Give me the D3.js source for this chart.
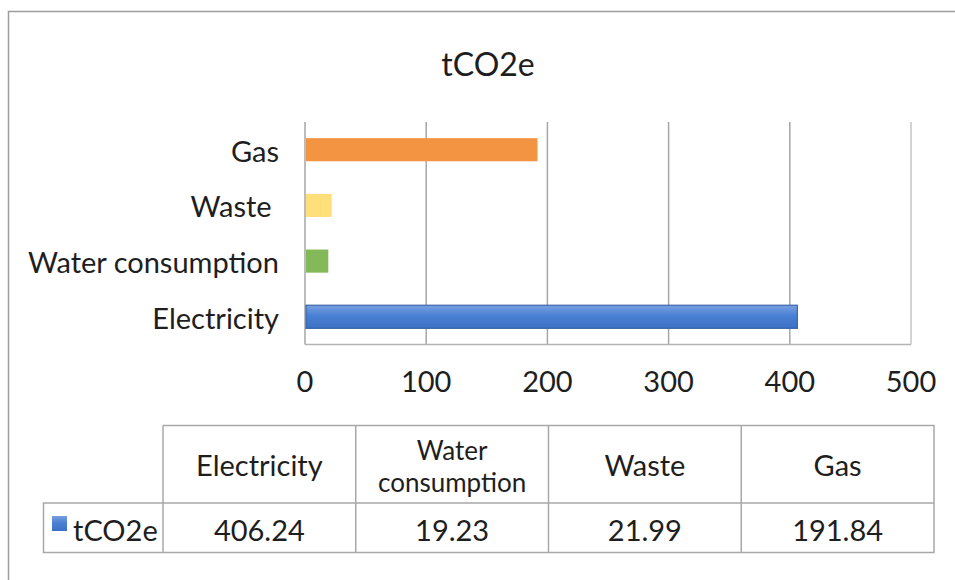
<!DOCTYPE html>
<html>
<head>
<meta charset="utf-8">
<script src="https://cdn.jsdelivr.net/npm/d3@7"></script>
<style>
  html, body { margin: 0; padding: 0; background: #fff; }
  svg text { font-family: Lato, "Open Sans", sans-serif; fill: #1e1e1e; }
</style>
</head>
<body>
<div id="chart"></div>
<script>
const w = 955,
      h = 580;

// data
const categories = ['Electricity', 'Water consumption', 'Waste', 'Gas'];
const labels = ['Electricity', 'Water consumption', 'Waste ', 'Gas'];
const values = [406.24, 19.23, 21.99, 191.84];
const valueText = ['406.24', '19.23', '21.99', '191.84'];
const colors = ['#4a7fd0', '#84b95a', '#ffdf7a', '#f39443'];
const ticks = [0, 100, 200, 300, 400, 500];
const seriesName = 'tCO2e';

const svg = d3.select('#chart')
  .append('svg')
  .attr('width', w)
  .attr('height', h);

const defs = svg.append('defs');
const grad = defs.append('linearGradient')
  .attr('id', 'blue')
  .attr('x1', 0).attr('y1', 0).attr('x2', 0).attr('y2', 1);
grad.append('stop').attr('offset', '0%').attr('stop-color', '#78a0e0');
grad.append('stop').attr('offset', '45%').attr('stop-color', '#4a80d4');
grad.append('stop').attr('offset', '100%').attr('stop-color', '#3c70c4');

// outer frame
svg.append('path')
   .attr('d', 'M8.5,580 V11.5 H955')
   .attr('fill', 'none')
   .attr('stroke', '#9d9d9d')
   .attr('stroke-width', 1.5);

svg.append('text')
   .attr('x', 488)
   .attr('y', 76)
   .attr('text-anchor', 'middle')
   .style('font-size', '32px')
   .text(seriesName);

const xScale = d3.scaleLinear()
  .domain([0, 500])
  .range([305, 911]);

const yScale = d3.scaleBand()
  .domain(categories.slice().reverse())
  .range([122, 344.5])
  .paddingInner(0.585)
  .paddingOuter(0.29);

// gridlines
svg.append('g')
   .selectAll('line')
   .data(ticks)
   .enter()
   .append('line')
   .attr('x1', d => xScale(d))
   .attr('x2', d => xScale(d))
   .attr('y1', 122)
   .attr('y2', 344.5)
   .attr('stroke', (d, i) => i === ticks.length - 1 ? '#c4c4c4' : '#a6a6a6')
   .attr('stroke-width', 1.5);

svg.append('line')
   .attr('x1', xScale(0)).attr('x2', xScale(500))
   .attr('y1', 344.5).attr('y2', 344.5)
   .attr('stroke', '#b4b4b4')
   .attr('stroke-width', 1.5);

// bars
svg.selectAll('rect.bar')
   .data(categories)
   .enter()
   .append('rect')
   .attr('class', 'bar')
   .attr('x', xScale(0) + 1)
   .attr('y', d => yScale(d))
   .attr('width', (d, i) => xScale(values[i]) - xScale(0) - 1)
   .attr('height', yScale.bandwidth())
   .attr('fill', (d, i) => i === 0 ? 'url(#blue)' : colors[i])
   .attr('stroke', (d, i) => i === 0 ? '#3b66aa' : 'none')
   .attr('stroke-width', 1.2);

// category labels
svg.selectAll('text.cat')
   .data(categories)
   .enter()
   .append('text')
   .attr('class', 'cat')
   .attr('x', 279)
   .attr('y', d => yScale(d) + yScale.bandwidth() / 2 + 12)
   .attr('text-anchor', 'end')
   .style('font-size', '29px')
   .style('white-space', 'pre')
   .text((d, i) => labels[i]);

// tick labels
svg.selectAll('text.tick')
   .data(ticks)
   .enter()
   .append('text')
   .attr('class', 'tick')
   .attr('x', d => xScale(d))
   .attr('y', 392)
   .attr('text-anchor', 'middle')
   .style('font-size', '29px')
   .text(d => d);

// data table
const colScale = d3.scaleBand()
  .domain(categories)
  .range([163, 934]);

const tTop = 425.5, tMid = 503, tBot = 552.5, tLeft = 43.5;
const tbl = svg.append('g')
  .attr('fill', 'none')
  .attr('stroke', '#a8a8a8')
  .attr('stroke-width', 1.5);

tbl.append('path')
   .attr('d', `M${colScale.range()[0]},${tTop} H${colScale.range()[1]} V${tBot} H${tLeft} V${tMid} H${colScale.range()[1]}`);

tbl.selectAll('line.col')
   .data(categories)
   .enter()
   .append('line')
   .attr('x1', d => colScale(d))
   .attr('x2', d => colScale(d))
   .attr('y1', tTop)
   .attr('y2', tBot);

categories.forEach(function(c, i) {
  let cx = colScale(c) + colScale.bandwidth() / 2;
  let words = c === 'Water consumption' ? ['Water', 'consumption'] : [c];
  let t = svg.append('text')
     .attr('x', cx)
     .attr('y', words.length > 1 ? 460 : 476)
     .attr('text-anchor', 'middle')
     .style('font-size', words.length > 1 ? '26px' : '29px');
  words.forEach(function(word, j) {
    t.append('tspan')
     .attr('x', cx)
     .attr('dy', j === 0 ? 0 : 32)
     .text(word);
  });
  svg.append('text')
     .attr('x', cx)
     .attr('y', 541)
     .attr('text-anchor', 'middle')
     .style('font-size', '29px')
     .text(valueText[i]);
});

svg.append('rect')
   .attr('x', 52)
   .attr('y', 516)
   .attr('width', 15)
   .attr('height', 15)
   .attr('fill', 'url(#blue)');

svg.append('text')
   .attr('x', 73)
   .attr('y', 541)
   .style('font-size', '29px')
   .text(seriesName);
</script>
</body>
</html>
